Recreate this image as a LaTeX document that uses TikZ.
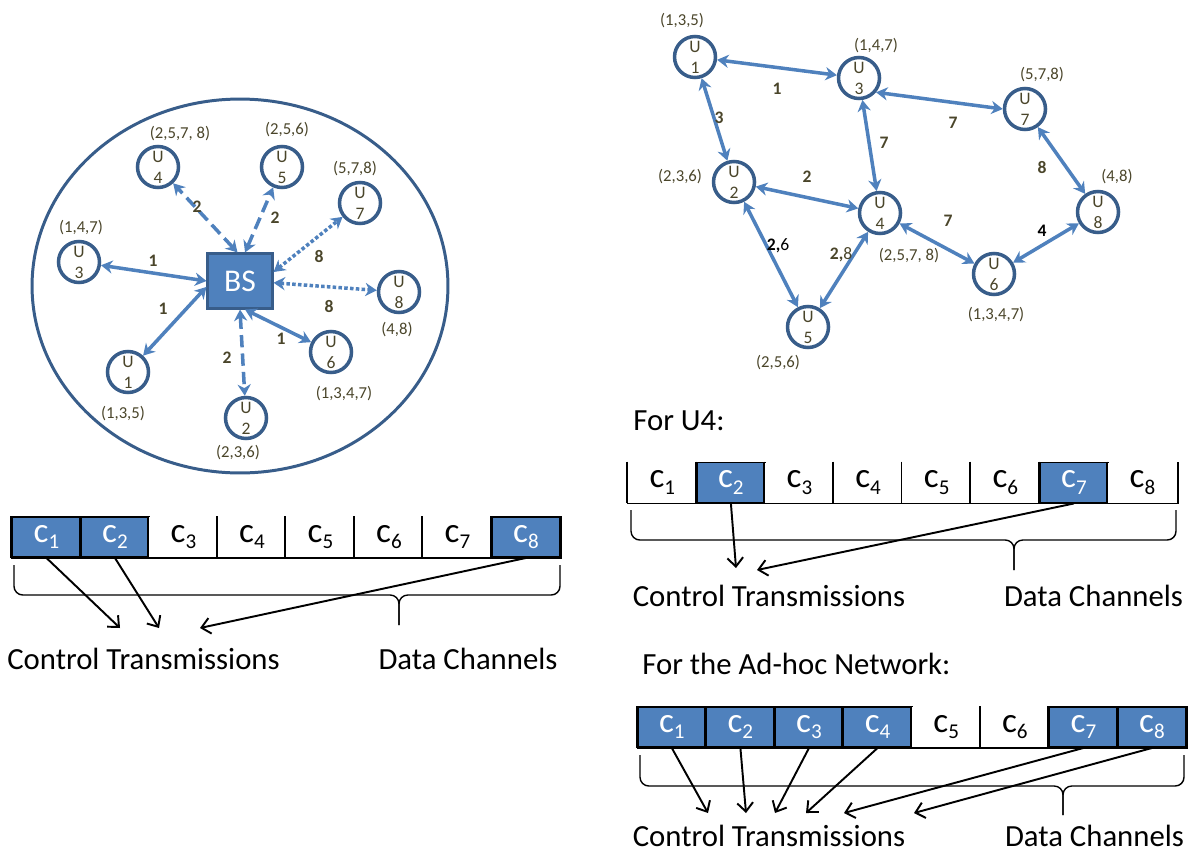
\documentclass[tikz,border=0pt]{standalone}
\usepackage{fontspec}
\setmainfont{Carlito}
\usetikzlibrary{arrows.meta}
\definecolor{bsblue}{HTML}{4F81BD}
\definecolor{ringblue}{HTML}{385D8A}
\definecolor{olive}{HTML}{4A452A}
\newcommand\chan[1]{c\raisebox{-3.8pt}{\fontsize{12}{12}\selectfont #1}}
\begin{document}
\begin{tikzpicture}[x=0.02cm,y=-0.02cm,
  user/.style={circle,draw=ringblue,line width=2pt,minimum size=0.82cm,inner sep=0pt,
    align=center,text=olive,font=\fontsize{10}{12}\selectfont},
  set/.style={text=olive,inner sep=0pt,font=\fontsize{9.5}{11}\selectfont},
  num/.style={text=olive,inner sep=0pt,font=\bfseries\fontsize{10}{12}\selectfont},
  link/.style={<->,>={Stealth[length=6.5pt,width=7.5pt]},draw=bsblue,line width=2pt},
  cell/.style={rectangle,minimum width=1.37cm,minimum height=0.8cm,inner sep=0pt,
    line width=1.1pt,font=\fontsize{20}{22}\selectfont},
  bar/.style={line width=1.1pt},
  ctl/.style={-{Straight Barb[length=5pt,width=9pt]},line width=1.1pt},
  brace/.style={line width=0.8pt,rounded corners=5pt},
  big/.style={inner sep=0pt,font=\fontsize{17.5}{20}\selectfont}]
\useasboundingbox (0,0) rectangle (1192,855);

% base station cell
\draw[ringblue,line width=1.7pt] (240,286) ellipse [x radius=4.16cm,y radius=3.74cm];
\node[rectangle,fill=bsblue,draw=ringblue,line width=1.2pt,minimum width=1.3cm,
  minimum height=1.1cm,text=white,font=\fontsize{18}{20}\selectfont] (bs) at (240,281) {BS};
\node[user] (a1) at (128,372) {U\\1};
\node[user] (a2) at (246,418) {U\\2};
\node[user] (a3) at (79,262) {U\\3};
\node[user] (a4) at (158,167) {U\\4};
\node[user] (a5) at (282,167) {U\\5};
\node[user] (a6) at (331,352) {U\\6};
\node[user] (a7) at (360,203) {U\\7};
\node[user] (a8) at (399,292) {U\\8};
\node[set] (s1) at (123,414) {(1,3,5)};
\node[set] (s2) at (238,453) {(2,3,6)};
\node[set] (s3) at (81,228) {(1,4,7)};
\node[set] (s4) at (180,134) {(2,5,7, 8)};
\node[set] (s5) at (287,130) {(2,5,6)};
\node[set] (s6) at (344,394) {(1,3,4,7)};
\node[set] (s7) at (355,169) {(5,7,8)};
\node[set] (s8) at (397,330) {(4,8)};
\draw[link] (bs.-170) -- (a1);
\draw[link,dash pattern=on 7pt off 3.5pt] (bs.south) -- (a2);
\draw[link] (bs.west) -- (a3);
\draw[link,dash pattern=on 7pt off 3.5pt] (bs.95) -- (a4);
\draw[link,dash pattern=on 7pt off 3.5pt] (bs.80) -- (a5);
\draw[link] (bs.-80) -- (a6);
\draw[link,dash pattern=on 2pt off 1.3pt] (bs.15) -- (a7);
\draw[link,dash pattern=on 2pt off 1.3pt] (bs.-3) -- (a8);
\node[num] (n1) at (163,309) {1};
\node[num] (n2) at (227,358) {2};
\node[num] (n3) at (153,261) {1};
\node[num] (n4) at (197,207) {2};
\node[num] (n5) at (275,218) {2};
\node[num] (n6) at (281,339) {1};
\node[num] (n7) at (319,256) {8};
\node[num] (n8) at (329,306) {8};

% ad-hoc network
\node[user] (u1) at (695,57) {U\\1};
\node[user] (u2) at (734,182) {U\\2};
\node[user] (u3) at (859,78) {U\\3};
\node[user] (u4) at (880,213) {U\\4};
\node[user] (u5) at (808,327) {U\\5};
\node[user] (u6) at (994,274) {U\\6};
\node[user] (u7) at (1025,109) {U\\7};
\node[user] (u8) at (1098,212) {U\\8};
\node[set] (r1) at (682,21) {(1,3,5)};
\node[set] (r2) at (680,177) {(2,3,6)};
\node[set] (r3) at (876,46) {(1,4,7)};
\node[set] (r4) at (909,256) {(2,5,7, 8)};
\node[set] (r5) at (778,363) {(2,5,6)};
\node[set] (r6) at (996,315) {(1,3,4,7)};
\node[set] (r7) at (1042,75) {(5,7,8)};
\node[set] (r8) at (1117,177) {(4,8)};
\draw[link] (u1) -- (u3);
\draw[link] (u1) -- (u2);
\draw[link] (u3.-40) -- (u7.west);
\draw[link] (u3) -- (u4);
\draw[link] (u2) -- (u4);
\draw[link] (u2) -- (u5);
\draw[link] (u4) -- (u5);
\draw[link] (u4) -- (u6);
\draw[link] (u7) -- (u8);
\draw[link] (u6) -- (u8);
\node[num] (m1) at (777,89) {1};
\node[num] (m2) at (719,118) {3};
\node[num] (m3) at (953,123) {7};
\node[num] (m4) at (884,143) {7};
\node[num] (m5) at (807,177) {2};
\node[num] (m6) at (1042,167) {8};
\node[num] (m7) at (948,221) {7};
\node[num,text=black] (m8) at (1042,231) {4};
\node[num,text=black] (m9) at (778,246) {2,\mdseries 6};
\node[num] (m10) at (841,255) {2,\mdseries 8};

% channels, base station
\foreach \i/\f/\t/\d in {1/bsblue/white/black,2/bsblue/white/black,3/white/black/none,
  4/white/black/none,5/white/black/none,6/white/black/none,7/white/black/none,8/bsblue/white/black}
  \node[cell,fill=\f,text=\t,draw=\d] (p\i) at ({12.2+68.5*\i-34.25},537) {\chan{\i}};
\draw[bar] (p1.south west) -- (p8.south east) -- (p8.north east);
\foreach \i in {1,...,8} \draw[bar] (p\i.north west) -- (p\i.south west);
\draw[brace] (14,565) -- (14,595) -- (399,595) -- (399,625);
\draw[brace] (560,565) -- (560,595) -- (399,595) -- (399,625);
\coordinate (lt1) at (120,628);
\coordinate (lt2) at (159,628);
\coordinate (lt3) at (200,628);
\draw[ctl] (p1.south) -- (lt1);
\draw[ctl] (p2.south) -- (lt2);
\draw[ctl] (p8.south) -- (lt3);
\node[big] (ctA) at (143.5,659) {Control Transmissions};
\node[big] (dcA) at (468,659) {Data Channels};

% channels, U4
\node[big,anchor=west] (hdB) at (633,421) {For U4:};
\foreach \i/\f/\t/\d in {1/white/black/none,2/bsblue/white/black,3/white/black/none,
  4/white/black/none,5/white/black/none,6/white/black/none,7/bsblue/white/black,8/white/black/none}
  \node[cell,fill=\f,text=\t,draw=\d] (q\i) at ({628+68.6*\i-34.3},482.5) {\chan{\i}};
\draw[bar] (q1.south west) -- (q8.south east) -- (q8.north east);
\foreach \i in {1,...,8} \draw[bar] (q\i.north west) -- (q\i.south west);
\draw[brace] (631,510) -- (631,540) -- (1014,540) -- (1014,570);
\draw[brace] (1176,510) -- (1176,540) -- (1014,540) -- (1014,570);
\coordinate (qt1) at (736,568);
\coordinate (qt2) at (757,570);
\draw[ctl] (q2.south) -- (qt1);
\draw[ctl] (q7.south) -- (qt2);
\node[big] (ctB) at (769,596) {Control Transmissions};
\node[big] (dcB) at (1093.5,596) {Data Channels};

% channels, ad-hoc
\node[big,anchor=west] (hdC) at (642,664) {For the Ad-hoc Network:};
\foreach \i/\f/\t/\d in {1/bsblue/white/black,2/bsblue/white/black,3/bsblue/white/black,
  4/bsblue/white/black,5/white/black/none,6/white/black/none,7/bsblue/white/black,8/bsblue/white/black}
  \node[cell,fill=\f,text=\t,draw=\d] (h\i) at ({637.5+68.6*\i-34.3},727) {\chan{\i}};
\draw[bar] (h1.south west) -- (h8.south east) -- (h8.north east);
\foreach \i in {1,...,8} \draw[bar] (h\i.north west) -- (h\i.south west);
\draw[brace] (640,755) -- (640,786) -- (1063,786) -- (1063,815);
\draw[brace] (1184,755) -- (1184,786) -- (1063,786) -- (1063,815);
\coordinate (ht1) at (708,813);
\coordinate (ht2) at (746,813);
\coordinate (ht3) at (775,813);
\coordinate (ht4) at (806,813);
\coordinate (ht5) at (844,813);
\coordinate (ht6) at (914,813);
\draw[ctl] (h1.south) -- (ht1);
\draw[ctl] (h2.south) -- (ht2);
\draw[ctl] (h3.south) -- (ht3);
\draw[ctl] (h4.south) -- (ht4);
\draw[ctl] (h7.south) -- (ht5);
\draw[ctl] (h8.south) -- (ht6);
\node[big] (ctC) at (769,836) {Control Transmissions};
\node[big] (dcC) at (1094.5,836) {Data Channels};
\end{tikzpicture}
\end{document}
